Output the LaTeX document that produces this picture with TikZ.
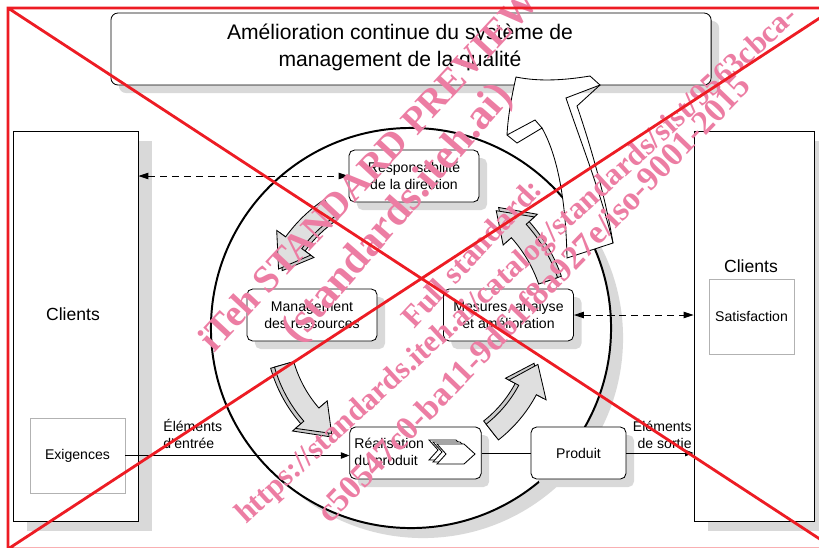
\documentclass[tikz,border=0pt]{standalone}
\usepackage{fontspec}
\setmainfont{Liberation Sans}
\newfontfamily\markfont{Liberation Serif}
\usetikzlibrary{positioning,arrows.meta,shadows}

\definecolor{xred}{RGB}{237,28,36}
\definecolor{shade}{RGB}{217,217,217}
\definecolor{markpink}{RGB}{236,125,163}

\begin{document}
\begin{tikzpicture}[x=0.025cm, y=-0.025cm, line width=0.6pt,
    box/.style={draw, rounded corners=4pt, fill=white, minimum width=3.25cm,
        minimum height=1.3cm, align=center, font=\fontsize{10}{12.3}\selectfont,
        general shadow={fill=shade, shadow xshift=0.2cm, shadow yshift=-0.2cm}},
    clientbox/.style={draw, fill=white, minimum height=9.75cm,
        general shadow={fill=shade, shadow xshift=0.35cm, shadow yshift=-0.25cm}},
    needbox/.style={draw=gray!60, fill=white, minimum height=1.875cm,
        font=\fontsize{10}{12.3}\selectfont},
    twoway/.style={dashed, dash pattern=on 5pt off 3.5pt,
        {Triangle[length=7pt,width=4.5pt]}-{Triangle[length=7pt,width=4.5pt]}},
    link/.style={-{Triangle[length=6pt,width=4.5pt]}},
    cyclearrow/.style={draw, fill=gray!25},
    cycleback/.style={draw, fill=gray!40},
    watermark/.style={text=markpink, inner sep=0pt, anchor=base west}]

    \useasboundingbox (0,0) rectangle (819,547);

    % Title
    \node (title) [draw, rounded corners=5pt, fill=white, minimum width=15cm,
        minimum height=1.8cm,
        general shadow={fill=shade, shadow xshift=0.2cm, shadow yshift=-0.2cm}]
        at (411,49) {};
    \node (titletext) [align=center, font=\fontsize{15}{19.2}\selectfont]
        at (400,47) {Amélioration continue du système de\\management de la qualité};

    % Clients on both sides
    \node (clientsL) [clientbox, minimum width=3.125cm] at (75.5,326) {};
    \node (clientsLtxt) [font=\fontsize{12.5}{15}\selectfont] at (73,314) {Clients};
    \node (exig) [needbox, minimum width=2.375cm] at (77.5,455.5) {Exigences};

    \node (clientsR) [clientbox, minimum width=3cm] at (754,326) {};
    \node (clientsRtxt) [font=\fontsize{12.5}{15}\selectfont] at (751,266) {Clients};
    \node (satis) [needbox, minimum width=2.125cm] at (751.5,316.5) {Satisfaction};

    % The cycle
    \node (cercle) [circle, draw, line width=1.4pt, fill=white, minimum size=10cm,
        general shadow={fill=shade, shadow xshift=0.3cm, shadow yshift=-0.25cm}]
        at (411,328) {};

    \begin{scope}[shift={(411,328)}]
        \foreach \s/\e/\r/\d in {-124/-156/145/-4, -196/-233/132/4,
                                 -308/-344/132/-4, -19/-54/145/4} {
            \pgfmathsetmacro\m{\e+12}
            \filldraw[cycleback] ({\s}:{\r+\d-10}) arc[start angle=\s, end angle=\m, radius={\r+\d-10}]
                -- ({\m}:{\r+\d-21}) -- ({\e}:{\r+\d}) -- ({\m}:{\r+\d+21})
                -- ({\m}:{\r+\d+10}) arc[start angle=\m, end angle=\s, radius={\r+\d+10}] -- cycle;
            \filldraw[cyclearrow] ({\s}:{\r-10}) arc[start angle=\s, end angle=\m, radius={\r-10}]
                -- ({\m}:{\r-21}) -- ({\e}:{\r}) -- ({\m}:{\r+21})
                -- ({\m}:{\r+10}) arc[start angle=\m, end angle=\s, radius={\r+10}] -- cycle;
        }
    \end{scope}

    \node (resp) [box] at (414,176) {Responsabilité\\de la direction};
    \node (mgmt) [box] at (312,315) {Management\\des ressources};
    \node (mesu) [box] at (508.5,315) {Mesures, analyse\\et amélioration};
    \node (real) [box, align=left, text width=3.05cm] at (415.5,453) {Réalisation\\du produit};
    \node (produit) [box, minimum width=2.375cm] at (578.5,453) {Produit};

    % Process icon
    \foreach \k in {2,1,0} {
        \filldraw[fill=white, shift={(-4*\k,-2*\k)}]
            (437,444) -- (464,444) -- (475,454) -- (464,464) -- (437,464) -- (446,454) -- cycle;
    }

    % Improvement arrow up to the title
    \filldraw[fill=white]
        (516,77) .. controls (540,82) and (566,80) .. (590,76) -- (600,85) -- (566,98)
        .. controls (580,140) and (600,190) .. (613,243) -- (567,258)
        .. controls (566,210) and (560,160) .. (542,128) -- (517,143) -- (507,135)
        .. controls (508,115) and (512,95) .. (516,77) -- cycle;
    \draw (507,135) -- (535,120) -- (542,128);
    \draw (600,85) -- (577,106) .. controls (592,150) and (606,200) .. (613,243);

    % Links
    \draw[twoway] (clientsL.east |- resp.west) -- (resp.west);
    \draw[twoway] (mesu.east) -- (mesu.east -| clientsR.west);
    \draw[link] (exig.east) -- (exig.east -| real.west);
    \draw (real.east) -- (produit.west);
    \draw[link] (produit.east) -- (produit.east -| clientsR.west);

    \node (entree) [anchor=south west, inner sep=0pt, align=left,
        font=\fontsize{10}{12.3}\selectfont] at (163,449) {Éléments\\d'entrée};
    \node (sortie) [anchor=south east, inner sep=0pt, align=right,
        font=\fontsize{10}{12.3}\selectfont] at (692,449) {Éléments\\de sortie};

    % Preview stamp
    \node (mark1) [watermark, rotate=47, font=\markfont\bfseries\fontsize{27}{27}\selectfont]
        at (214,354) {iTeh STANDARD PREVIEW};
    \node (mark2) [watermark, rotate=49, font=\markfont\bfseries\fontsize{30}{30}\selectfont]
        at (298,345) {(standards.iteh.ai)};
    \node (mark3) [watermark, rotate=47, font=\markfont\bfseries\fontsize{22}{22}\selectfont]
        at (414,330) {Full standard:};
    \node (mark4) [watermark, rotate=42.5, font=\markfont\bfseries\fontsize{22}{22}\selectfont]
        at (246,525) {https://standards.iteh.ai/catalog/standards/sist/9563cbca-};
    \node (mark5) [watermark, rotate=46, font=\markfont\bfseries\fontsize{24}{24}\selectfont]
        at (330,525) {c50547c0-ba11-9d61f8a927e/iso-9001-2015};

    % Cross
    \draw[xred, line width=2pt] (8,8) rectangle (835,549)
        (8,8) -- (835,549) (8,549) -- (835,8);

\end{tikzpicture}
\end{document}
